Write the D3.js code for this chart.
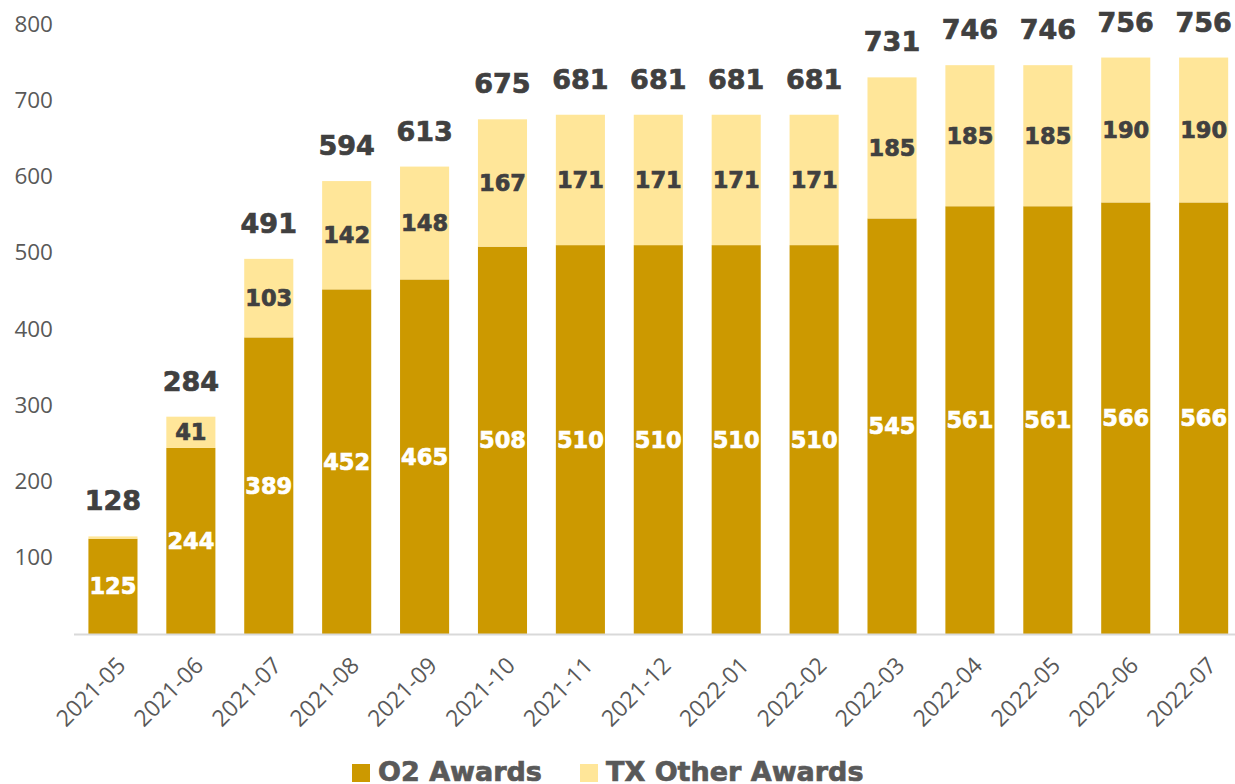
<!DOCTYPE html>
<html lang="en">
<head>
    <meta charset="utf-8">
    <title>O2 and TX Other Awards</title>
    <script src="https://d3js.org/d3.v7.min.js"></script>
    <style>
        body { margin: 0; background: white; }
        .axis text { font-family: "Open Sans", sans-serif; fill: #595959; }
        .lbl { font-family: "DejaVu Sans", sans-serif; font-weight: bold; text-anchor: middle; stroke-width: 0.7px; }
    </style>
</head>
<body>
    <svg width="1235" height="784"></svg>
    <script>
        // data
        var months = ["2021-05", "2021-06", "2021-07", "2021-08", "2021-09", "2021-10", "2021-11", "2021-12",
            "2022-01", "2022-02", "2022-03", "2022-04", "2022-05", "2022-06", "2022-07"];
        var o2Awards = [125, 244, 389, 452, 465, 508, 510, 510, 510, 510, 545, 561, 561, 566, 566];
        var txOther = [3, 41, 103, 142, 148, 167, 171, 171, 171, 171, 185, 185, 185, 190, 190];
        var totals = [128, 284, 491, 594, 613, 675, 681, 681, 681, 681, 731, 746, 746, 756, 756];
        var yTicks = [100, 200, 300, 400, 500, 600, 700, 800];

        var svg = d3.select("svg");
        var colO2 = "#CC9900", colTX = "#FFE699";

        var x = d3.scaleBand().domain(months).range([74, 1242.6]).paddingInner(0.37).paddingOuter(0.185);
        var y = d3.scaleLinear().domain([0, 800]).range([634, 24]);

        // y axis labels (no line)
        var ya = svg.append("g").attr("class", "axis")
            .attr("transform", "translate(53,0)")
            .call(d3.axisLeft(y).tickValues(yTicks).tickSize(0).tickPadding(0));
        ya.select(".domain").remove();
        ya.selectAll("text").style("font-size", "22.5px");

        var rows = months.map(function(m, i) {
            return { m: m, o2: o2Awards[i], tx: txOther[i], total: totals[i] };
        });

        // O2 segment
        svg.selectAll(".o2").data(rows).enter().append("rect")
            .attr("class", "o2")
            .attr("x", function(d) { return x(d.m); })
            .attr("width", x.bandwidth())
            .attr("y", function(d) { return y(d.o2); })
            .attr("height", function(d) { return y(0) - y(d.o2); })
            .attr("fill", colO2);

        // TX segment
        svg.selectAll(".tx").data(rows).enter().append("rect")
            .attr("class", "tx")
            .attr("x", function(d) { return x(d.m); })
            .attr("width", x.bandwidth())
            .attr("y", function(d) { return y(d.o2 + d.tx); })
            .attr("height", function(d) { return y(d.o2) - y(d.o2 + d.tx); })
            .attr("fill", colTX);

        // x axis
        var xa = svg.append("g").attr("class", "axis")
            .attr("transform", "translate(0," + y(0) + ")")
            .call(d3.axisBottom(x).tickSize(0).tickPadding(0));
        xa.select(".domain").remove();
        xa.append("line").attr("x1", 74).attr("x2", 1235).attr("y1", 0.5).attr("y2", 0.5)
            .attr("stroke", "#D9D9D9").attr("stroke-width", 2);
        xa.selectAll(".tick text")
            .style("font-size", "23px")
            .attr("text-anchor", "end")
            .attr("dy", 0)
            .attr("transform", "translate(14,33) rotate(-45)");

        // labels inside O2
        svg.selectAll(".lo2").data(rows).enter().append("text")
            .attr("class", "lbl")
            .attr("x", function(d) { return x(d.m) + x.bandwidth() / 2; })
            .attr("y", function(d) { return (y(0) + y(d.o2)) / 2; })
            .attr("dy", "0.36em")
            .attr("fill", "white").attr("stroke", "white")
            .style("font-size", "22.5px")
            .text(function(d) { return d.o2; });

        // labels inside TX
        svg.selectAll(".ltx").data(rows.filter(function(d) { return d.tx > 10; })).enter().append("text")
            .attr("class", "lbl")
            .attr("x", function(d) { return x(d.m) + x.bandwidth() / 2; })
            .attr("y", function(d) { return (y(d.o2) + y(d.o2 + d.tx)) / 2; })
            .attr("dy", "0.36em")
            .attr("fill", "#404040").attr("stroke", "#404040")
            .style("font-size", "22.5px")
            .text(function(d) { return d.tx; });

        // totals on top
        svg.selectAll(".ltot").data(rows).enter().append("text")
            .attr("class", "lbl")
            .attr("x", function(d) { return x(d.m) + x.bandwidth() / 2; })
            .attr("y", function(d) { return y(d.o2 + d.tx) - 26; })
            .attr("fill", "#404040").attr("stroke", "#404040")
            .style("font-size", "27px")
            .text(function(d) { return d.total; });

        // legend
        var legend = [["O2 Awards", colO2, 352], ["TX Other Awards", colTX, 580]];
        var lg = svg.selectAll(".leg").data(legend).enter().append("g")
            .attr("transform", function(d) { return "translate(" + d[2] + ",0)"; });
        lg.append("rect").attr("x", 0).attr("y", 764).attr("width", 18).attr("height", 18)
            .attr("fill", function(d) { return d[1]; });
        lg.append("text").attr("x", 26).attr("y", 781)
            .attr("font-family", "DejaVu Sans").attr("font-weight", "bold")
            .attr("font-size", "27px").attr("fill", "#595959")
            .attr("stroke", "#595959").attr("stroke-width", 0.7)
            .text(function(d) { return d[0]; });
    </script>
</body>
</html>
